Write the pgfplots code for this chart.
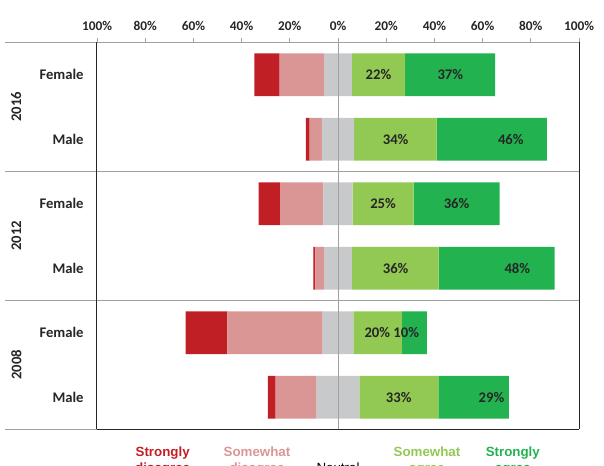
\documentclass[border=0pt]{standalone}
\usepackage{pgfplots}
\pgfplotsset{compat=1.18}
\usepackage{pgfplotstable}
\usepackage{fontspec}
\setmainfont{Carlito}
\newfontfamily\legfont{Liberation Sans}

\definecolor{sdis}{RGB}{192,31,38}
\definecolor{swdis}{RGB}{218,150,148}
\definecolor{neut}{RGB}{200,201,203}
\definecolor{swagr}{RGB}{146,201,83}
\definecolor{sagr}{RGB}{34,178,79}
\definecolor{gridgray}{RGB}{160,160,160}
\definecolor{labtext}{RGB}{38,38,38}

% rows: 1 Female 2016, 2 Male 2016, 3 Female 2012, 4 Male 2012, 5 Female 2008, 6 Male 2008
% neutral is split in half around 0
\pgfplotstableread{
y  neuL  swd    sd
1  -5.8  -18.4  -10.5
2  -6.7  -5.1   -1.5
3  -6.1  -17.9  -8.9
4  -5.8  -3.6   -0.8
5  -6.4  -39.5  -17.3
6  -8.9  -17.0  -3.2
}\negdata
\pgfplotstableread{
y  neuR  swa   sa
1  5.8   22.1  37.3
2  6.7   34.2  45.8
3  6.1   25.3  35.7
4  5.8   36.0  48.1
5  6.4   20.1  10.4
6  8.9   32.8  29.2
}\posdata

\pgfplotsset{likert/.style={
  at={(72.75pt,-31.8pt)}, anchor=north west,
  width=361.5pt, height=290.25pt, scale only axis,
  xmin=-100, xmax=100, ymin=0.5, ymax=6.5, y dir=reverse,
  clip=false,
}}
\tikzset{
  lab/.style={font=\fontsize{11}{13}\selectfont\bfseries, text=labtext},
  sep/.style={draw=gridgray, line width=0.75pt},
  brd/.style={draw=black!85, line width=0.75pt},
  leg/.style={anchor=base, font=\legfont\fontsize{10}{12}\selectfont\bfseries},
}

\begin{document}
\begin{tikzpicture}
% left half (negative stack) + ticks
\begin{axis}[likert, xbar stacked, bar width=0.662,
  axis line style={draw=none},
  xtick={-100,-80,...,100},
  xticklabels={100\%,80\%,60\%,40\%,20\%,0\%,20\%,40\%,60\%,80\%,100\%},
  xtick pos=right, xticklabel pos=right,
  tick align=outside, major tick length=3pt,
  xtick style={gridgray, line width=0.6pt},
  xticklabel style={font=\fontsize{10}{12}\selectfont\bfseries, text=labtext, yshift=2pt},
  ytick={1,...,6},
  yticklabels={Female,Male,Female,Male,Female,Male},
  ytick style={draw=none},
  yticklabel style={font=\fontsize{11}{13}\selectfont\bfseries, text=labtext, anchor=east, xshift=-3.5pt},
]
\addplot[draw=none, fill=neut] table[x=neuL, y=y] {\negdata};
\addplot[draw=none, fill=swdis] table[x=swd, y=y] {\negdata};
\addplot[draw=none, fill=sdis] table[x=sd, y=y] {\negdata};
\end{axis}

% right half (positive stack)
\begin{axis}[likert, xbar stacked, bar width=0.662,
  axis line style={draw=none}, xtick=\empty, ytick=\empty]
\addplot[draw=none, fill=neut] table[x=neuR, y=y] {\posdata};
\addplot[draw=none, fill=swagr] table[x=swa, y=y] {\posdata};
\addplot[draw=none, fill=sagr] table[x=sa, y=y] {\posdata};
\end{axis}

% lines and labels on top
\begin{axis}[likert, axis line style={draw=none}, xtick=\empty, ytick=\empty]
\draw[sep] (axis cs:-138.1,0.5) -- (axis cs:100,0.5);
\draw[sep] (axis cs:-138.1,2.5) -- (axis cs:100,2.5);
\draw[sep] (axis cs:-138.1,4.5) -- (axis cs:100,4.5);
\draw[sep] (axis cs:-138.1,6.5) -- (axis cs:-100,6.5);
\draw[brd] (axis cs:-100,6.5) -- (axis cs:100,6.5);
\draw[brd] (axis cs:-100,0.5) -- (axis cs:-100,6.5);
\draw[brd] (axis cs:100,0.5) -- (axis cs:100,6.5);
\draw[sep] (axis cs:0,0.5) -- (axis cs:0,6.5);

\node[lab, rotate=90] at (axis cs:-133.5,1.5) {2016};
\node[lab, rotate=90] at (axis cs:-133.5,3.5) {2012};
\node[lab, rotate=90] at (axis cs:-133.5,5.5) {2008};
\node[lab] at (axis cs:16.8,1) {22\%};
\node[lab] at (axis cs:46.6,1) {37\%};
\node[lab] at (axis cs:23.9,2) {34\%};
\node[lab] at (axis cs:71.7,2) {46\%};
\node[lab] at (axis cs:18.7,3) {25\%};
\node[lab] at (axis cs:49.2,3) {36\%};
\node[lab] at (axis cs:23.9,4) {36\%};
\node[lab] at (axis cs:74.4,4) {48\%};
\node[lab] at (axis cs:16.3,5) {20\%};
\node[lab] at (axis cs:28.3,5) {10\%};
\node[lab] at (axis cs:25.2,6) {33\%};
\node[lab] at (axis cs:63.7,6) {29\%};
\end{axis}

% legend (text only, cut by the page edge as in the original)
\node[leg, text=sdis] at (122.0pt,-342.75pt) {Strongly};
\node[leg, text=sdis] at (122.0pt,-354.45pt) {disagree};
\node[leg, text=swdis] at (192.75pt,-342.75pt) {Somewhat};
\node[leg, text=swdis] at (192.75pt,-354.45pt) {disagree};
\node[leg, text=black, font=\legfont\fontsize{10}{12}\selectfont\mdseries] at (253.5pt,-354.45pt) {Neutral};
\node[leg, text=swagr] at (320.25pt,-342.75pt) {Somewhat};
\node[leg, text=swagr] at (320.25pt,-354.45pt) {agree};
\node[leg, text=sagr] at (384.6pt,-342.75pt) {Strongly};
\node[leg, text=sagr] at (384.6pt,-354.45pt) {agree};

\pgfresetboundingbox
\path[use as bounding box] (0,0) rectangle (453pt,-349.5pt);
\end{tikzpicture}
\end{document}
